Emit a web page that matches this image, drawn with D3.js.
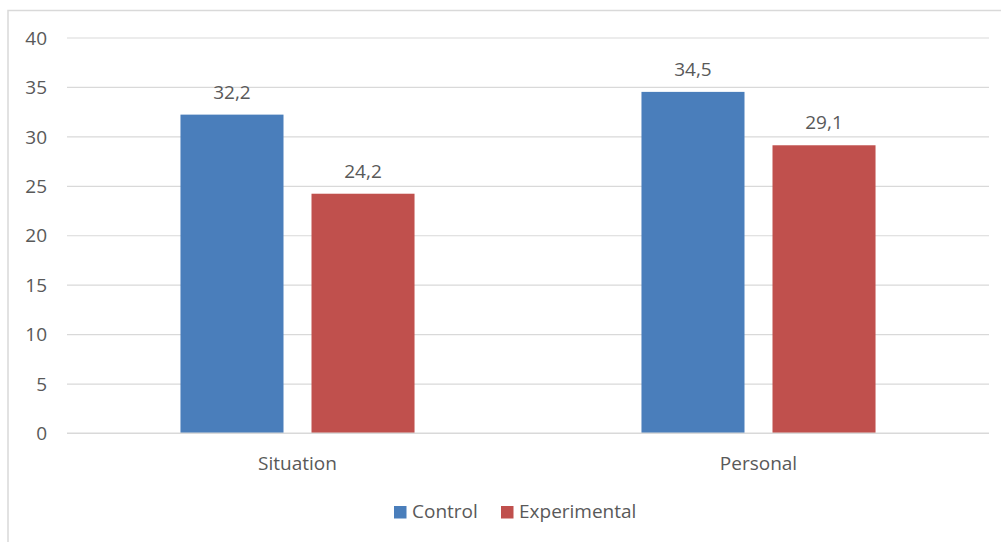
<!DOCTYPE html>
<html>
<head>
<meta charset="utf-8">
<script src="https://cdn.jsdelivr.net/npm/d3@7"></script>
<style>
  html, body { margin: 0; padding: 0; background: #fff; }
  svg { display: block; }
  text { font-family: "Open Sans", sans-serif; fill: #595959; }
</style>
</head>
<body>
<svg id="chart" width="1001" height="542"></svg>
<script>
const categories = ["Situation", "Personal"];
const seriesNames = ["Control", "Experimental"];
const controlValues = [32.2, 34.5];
const experimentalValues = [24.2, 29.1];
const yTicks = [0, 5, 10, 15, 20, 25, 30, 35, 40];
const colors = ["#4a7ebb", "#c0504d"];

const svg = d3.select("#chart");
const plot = { left: 67, right: 989, top: 37.5, bottom: 433 };

// outer frame
svg.append("rect")
  .attr("x", 8).attr("y", 10.5)
  .attr("width", 1010).attr("height", 560)
  .attr("fill", "none").attr("stroke", "#d9d9d9").attr("stroke-width", 1.5);

const x0 = d3.scaleBand().domain(categories).range([plot.left, plot.right]).paddingInner(0).paddingOuter(0);
const y = d3.scaleLinear().domain([0, 40]).range([plot.bottom, plot.top]);
const x1 = d3.scaleBand().domain(seriesNames).range([0, x0.bandwidth()]).paddingInner(0.2137).paddingOuter(0.866);

// gridlines
const yAxis = d3.axisLeft(y).tickValues(yTicks).tickSize(-(plot.right - plot.left)).tickFormat(d => d);
const gY = svg.append("g").attr("transform", `translate(${plot.left},0)`).call(yAxis);
gY.select(".domain").remove();
gY.selectAll(".tick line").attr("stroke", "#d9d9d9").attr("stroke-width", 1.2);
gY.selectAll(".tick text")
  .attr("x", -20).attr("dy", "0.35em")
  .style("font-size", "19px").style("font-family", "'Open Sans', sans-serif").attr("fill", "#595959");

const data = categories.map((c, i) => ({ cat: c, vals: [controlValues[i], experimentalValues[i]] }));

const groups = svg.selectAll("g.cat").data(data).enter().append("g")
  .attr("class", "cat")
  .attr("transform", d => `translate(${x0(d.cat)},0)`);

groups.selectAll("rect").data(d => d.vals.map((v, j) => ({ s: seriesNames[j], v, j })))
  .enter().append("rect")
  .attr("x", d => x1(d.s))
  .attr("width", x1.bandwidth())
  .attr("y", d => y(d.v))
  .attr("height", d => y(0) - y(d.v))
  .attr("fill", d => colors[d.j]);

groups.selectAll("text.val").data(d => d.vals.map((v, j) => ({ s: seriesNames[j], v, j })))
  .enter().append("text")
  .attr("class", "val")
  .attr("x", d => x1(d.s) + x1.bandwidth() / 2)
  .attr("y", d => y(d.v) - 16)
  .attr("text-anchor", "middle")
  .style("font-size", "19px")
  .attr("fill", "#404040")
  .text(d => String(d.v).replace(".", ","));

// x axis baseline
svg.append("line")
  .attr("x1", plot.left).attr("x2", plot.right)
  .attr("y1", y(0)).attr("y2", y(0))
  .attr("stroke", "#d9d9d9").attr("stroke-width", 1.2);

// category labels
svg.selectAll("text.cat").data(categories).enter().append("text")
  .attr("class", "cat")
  .attr("x", d => x0(d) + x0.bandwidth() / 2)
  .attr("y", 469.5)
  .attr("text-anchor", "middle")
  .style("font-size", "19px")
  .text(d => d);

// legend
const legendItems = [
  { name: seriesNames[0], color: colors[0], x: 394 },
  { name: seriesNames[1], color: colors[1], x: 501 }
];
const lg = svg.selectAll("g.leg").data(legendItems).enter().append("g").attr("class", "leg");
lg.append("rect")
  .attr("x", d => d.x).attr("y", 506)
  .attr("width", 12.5).attr("height", 12.5)
  .attr("fill", d => d.color);
lg.append("text")
  .attr("x", d => d.x + 18).attr("y", 518)
  .style("font-size", "19px")
  .text(d => d.name);
</script>
</body>
</html>
